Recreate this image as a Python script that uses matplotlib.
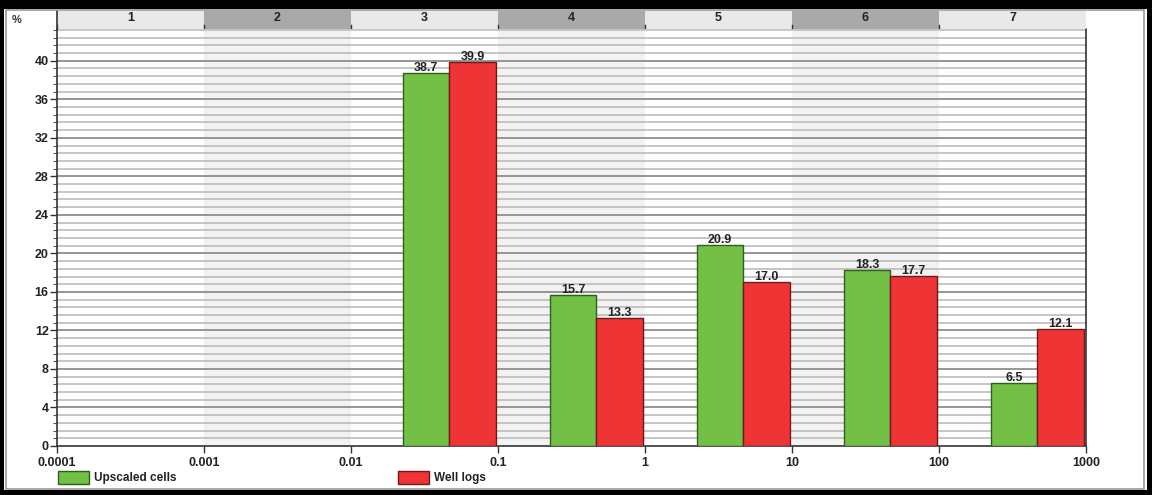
import matplotlib
matplotlib.use("Agg")
import matplotlib.pyplot as plt
from matplotlib.patches import Rectangle
from matplotlib.ticker import MultipleLocator, FixedLocator, NullLocator
import numpy as np

plt.rcParams['font.family'] = ['Liberation Sans', 'DejaVu Sans']

# Decade bins (log10 of lower edge) and their header numbers
decade_lo = [-4, -3, -2, -1, 0, 1, 2]
bin_names = ["1", "2", "3", "4", "5", "6", "7"]
upscaled = [0.0, 0.0, 38.7, 15.7, 20.9, 18.3, 6.5]
well_logs = [0.0, 0.0, 39.9, 13.3, 17.0, 17.7, 12.1]
x_ticks = [0.0001, 0.001, 0.01, 0.1, 1, 10, 100, 1000]
x_tick_labels = ["0.0001", "0.001", "0.01", "0.1", "1", "10", "100", "1000"]
y_ticks = list(range(0, 41, 4))
series_names = ["Upscaled cells", "Well logs"]

GREEN = "#74bf45"
RED = "#ee3434"
GREEN_EDGE = "#2f5e20"
RED_EDGE = "#6e1a1a"

W, H = 1152, 495
fig = plt.figure(figsize=(W / 100, H / 100), dpi=100)

def fx(px):
    return px / W

def fy(py):
    return 1 - py / H

ax_l, ax_r = 57, 1086
ax_t, ax_b = 29, 446
ax = fig.add_axes([fx(ax_l), fy(ax_b), fx(ax_r - ax_l), (ax_b - ax_t) / H])
ax.set_xscale('log')
ax.set_xlim(1e-4, 1e3)
ax.set_ylim(0, 43.3)

# alternating column shading
for i, lo in enumerate(decade_lo):
    if i % 2 == 1:
        ax.axvspan(10.0 ** lo, 10.0 ** (lo + 1), color="#f2f2f2", zorder=0, lw=0)

# horizontal grid
for yv in np.arange(0.8, 43.3, 0.8):
    major = abs(yv / 4 - round(yv / 4)) < 1e-6
    ax.axhline(yv, color="#8e8e8e" if major else "#b6b6b6",
               lw=1.3 if major else 1.1, zorder=1)

# bars, placed in log space within each decade
g_lo, g_hi, r_hi = 0.355, 0.668, 0.985
for lo, gv, rv in zip(decade_lo, upscaled, well_logs):
    left_g = 10.0 ** (lo + g_lo)
    mid = 10.0 ** (lo + g_hi)
    right_r = 10.0 ** (lo + r_hi)
    if gv > 0:
        ax.bar(left_g, gv, width=mid - left_g, align='edge', color=GREEN,
               edgecolor=GREEN_EDGE, lw=1.0, zorder=3)
        ax.text(10.0 ** (lo + (g_lo + g_hi) / 2), gv - 0.1, f"{gv:.1f}",
                ha='center', va='bottom', fontsize=9, fontweight='bold',
                color="#222222", zorder=4)
    if rv > 0:
        ax.bar(mid, rv, width=right_r - mid, align='edge', color=RED,
               edgecolor=RED_EDGE, lw=1.0, zorder=3)
        ax.text(10.0 ** (lo + (g_hi + r_hi) / 2), rv - 0.1, f"{rv:.1f}",
                ha='center', va='bottom', fontsize=9, fontweight='bold',
                color="#222222", zorder=4)

ax.xaxis.set_major_locator(FixedLocator(x_ticks))
ax.xaxis.set_minor_locator(NullLocator())
ax.set_xticklabels(x_tick_labels)
ax.yaxis.set_major_locator(FixedLocator(y_ticks))
ax.yaxis.set_minor_locator(MultipleLocator(0.8))
ax.tick_params(axis='both', which='major', labelsize=9, length=5, width=1,
               color="#333333")
ax.tick_params(axis='x', which='major', pad=3)
ax.tick_params(axis='y', which='major', pad=1)
ax.tick_params(axis='y', which='minor', length=3, width=0.8, color="#555555")
for lab in ax.get_xticklabels() + ax.get_yticklabels():
    lab.set_fontweight('bold')
    lab.set_color("#222222")
ax.spines['top'].set_visible(False)
for s in ('left', 'bottom', 'right'):
    ax.spines[s].set_color("#333333")
    ax.spines[s].set_linewidth(1.2)

# header band with decade numbers
hd_t, hd_b = 11, 29
hax = fig.add_axes([fx(ax_l), fy(hd_b), fx(ax_r - ax_l), (hd_b - hd_t) / H])
hax.set_xscale('log')
hax.set_xlim(1e-4, 1e3)
hax.set_ylim(0, 1)
for i, (lo, name) in enumerate(zip(decade_lo, bin_names)):
    hax.axvspan(10.0 ** lo, 10.0 ** (lo + 1), color="#a9a9a9" if i % 2 else "#e9e9e9",
                lw=0)
    hax.axvline(10.0 ** lo, ymax=0.25, color="#333333", lw=1)
    hax.text(10.0 ** (lo + 0.5), 0.6, name, ha='center', va='center', fontsize=9,
             fontweight='bold', color="#222222")
hax.set_xticks([])
hax.set_yticks([])
hax.xaxis.set_minor_locator(NullLocator())
for s in ('top', 'bottom', 'right'):
    hax.spines[s].set_visible(False)
hax.spines['left'].set_color("#333333")
hax.spines['left'].set_linewidth(1.2)

fig.text(fx(17), fy(20), "%", fontsize=8, fontweight='bold', color="#333333",
         ha='center', va='center')

# legend
for x0, color, edge, name in [(58, GREEN, GREEN_EDGE, series_names[0]),
                              (398, RED, RED_EDGE, series_names[1])]:
    fig.add_artist(Rectangle((fx(x0), fy(484)), fx(31), 13 / H, transform=fig.transFigure,
                             facecolor=color, edgecolor=edge, lw=1))
    fig.text(fx(x0 + 36), fy(478.5), name, fontsize=8.5, fontweight='bold',
             color="#222222", ha='left', va='center')

# window frame
fig.add_artist(Rectangle((fx(5.5), fy(489)), fx(1138), 479.5 / H, transform=fig.transFigure,
                         facecolor='none', edgecolor="#9a9a9a", lw=1.2))
for rect in [(0, fy(9), 1, 9 / H), (0, 0, 1, 5 / H), (0, 0, fx(4), 1),
             (fx(1147), 0, fx(5), 1)]:
    fig.add_artist(Rectangle(rect[:2], rect[2], rect[3], transform=fig.transFigure,
                             facecolor='black', edgecolor='none'))

fig.savefig("out.png", dpi=100)
